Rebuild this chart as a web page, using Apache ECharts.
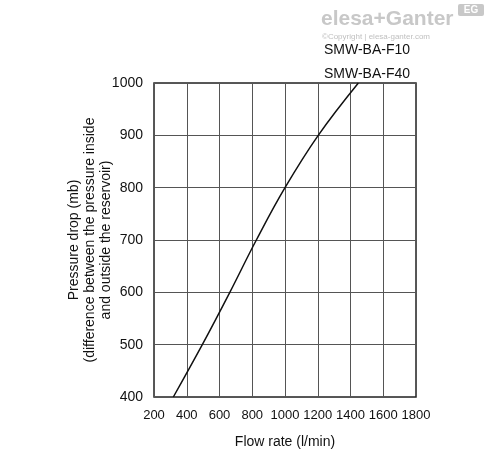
<!DOCTYPE html>
<html>
<head>
<meta charset="utf-8">
<script src="https://cdn.jsdelivr.net/npm/echarts@6/dist/echarts.min.js"></script>
<style>
html, body { margin: 0; padding: 0; background: #fff; }
#chart { width: 488px; height: 454px; }
</style>
</head>
<body>
<div id="chart"></div>
<script>
// flow rate (l/min) vs pressure drop (mb)
const flowRate = [318, 495, 663, 825, 1000, 1203, 1448]
const pressureDrop = [400, 500, 600, 700, 800, 900, 1000]
const seriesNames = ['SMW-BA-F10', 'SMW-BA-F40']

const font = "'Liberation Sans', Arial, sans-serif"
const chart = echarts.init(document.getElementById('chart'))

const option = {
    animation: false,
    textStyle: { fontFamily: font },
    grid: {
        left: 154,
        right: 72,
        top: 83,
        bottom: 56,
        show: true,
        borderColor: '#222',
        borderWidth: 1.5
    },
    graphic: [
        {
            type: 'text', right: 78, top: 38,
            style: { text: seriesNames.join('\n'), font: '14px ' + font, fill: '#111', lineHeight: 24, align: 'left' }
        },
        {
            type: 'text', left: 321, top: 9,
            style: { text: 'elesa+Ganter', font: 'bold 21px ' + font, fill: '#c8c8c8' }
        },
        {
            type: 'text', left: 322, top: 33,
            style: { text: '©Copyright | elesa-ganter.com', font: '8px ' + font, fill: '#c0c0c0' }
        },
        {
            type: 'group', left: 458, top: 4,
            children: [
                { type: 'rect', shape: { x: 0, y: 0, width: 26, height: 12, r: 2 }, style: { fill: '#c8c8c8' } },
                { type: 'text', style: { x: 13, y: 6, text: 'EG', font: 'bold 10px ' + font, fill: '#fff', align: 'center', verticalAlign: 'middle' } }
            ]
        }
    ],
    xAxis: {
        type: 'value',
        min: 200,
        max: 1800,
        interval: 200,
        name: 'Flow rate (l/min)',
        nameLocation: 'middle',
        nameGap: 38,
        nameTextStyle: { fontSize: 14, color: '#111' },
        axisLine: { show: false },
        axisTick: { show: false },
        axisLabel: {
            fontSize: 13,
            color: '#111',
            margin: 12,
            hideOverlap: false,
            showMaxLabel: true,
            formatter: (v) => String(v)
        },
        splitLine: { lineStyle: { color: '#555', width: 1 } }
    },
    yAxis: {
        type: 'value',
        min: 400,
        max: 1000,
        interval: 100,
        name: 'Pressure drop (mb)\n(difference between the pressure inside\nand outside the reservoir)',
        nameLocation: 'middle',
        nameGap: 40,
        nameRotate: 90,
        nameMoveOverlap: false,
        nameTextStyle: { fontSize: 14, color: '#111', lineHeight: 16, align: 'center' },
        axisLine: { show: false },
        axisTick: { show: false },
        axisLabel: { fontSize: 14, color: '#111', margin: 11, formatter: (v) => String(v) },
        splitLine: { lineStyle: { color: '#555', width: 1 } }
    },
    series: [
        {
            name: seriesNames[1],
            type: 'line',
            smooth: 0.4,
            symbol: 'none',
            data: flowRate.map((x, i) => [x, pressureDrop[i]]),
            lineStyle: { color: '#111', width: 1.5 }
        }
    ]
}

chart.setOption(option)
</script>
</body>
</html>
